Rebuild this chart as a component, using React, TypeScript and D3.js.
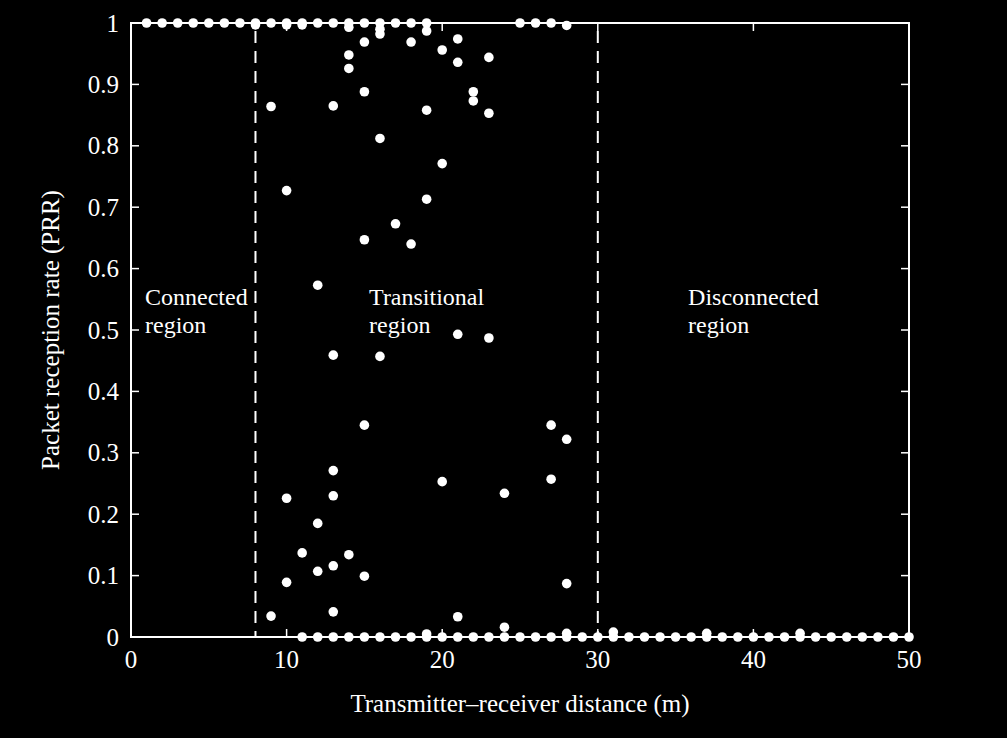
import React from 'react'
import * as d3 from 'd3'

// PRR = 1 (fully connected links)
const fullDist = [1, 2, 3, 4, 5, 6, 7, 8, 9, 10, 11, 12, 13, 14, 15, 16, 17, 18, 19, 25, 26, 27]
// PRR = 0 (no packets received)
const zeroDist = [11, 12, 13, 14, 15, 16, 17, 18, 19, 20, 21, 22, 23, 24, 25, 26, 27, 28, 29, 30,
  31, 32, 33, 34, 35, 36, 37, 38, 39, 40, 41, 42, 43, 44, 45, 46, 47, 48, 49, 50]
// everything else
const otherDist = [28, 8, 10, 11, 14, 16, 16, 19, 15, 18, 14, 14, 15, 9, 13, 16, 21, 20, 21, 23,
  22, 22, 19, 23, 20, 10, 19, 17, 15, 18, 12, 21, 23, 13, 16, 15, 27, 28, 13, 20,
  27, 10, 13, 24, 12, 11, 14, 12, 13, 15, 10, 28, 9, 13, 21, 24, 19, 28, 31, 37, 43]
const otherPrr = [0.996, 0.997, 0.997, 0.997, 0.993, 0.99, 0.982, 0.987, 0.969, 0.969, 0.948, 0.926, 0.888, 0.864, 0.865, 0.812, 0.974, 0.956, 0.936, 0.944,
  0.888, 0.873, 0.858, 0.853, 0.771, 0.727, 0.713, 0.673, 0.647, 0.64, 0.573, 0.493, 0.487, 0.459, 0.457, 0.345, 0.345, 0.322, 0.271, 0.253,
  0.257, 0.226, 0.23, 0.234, 0.185, 0.137, 0.134, 0.107, 0.116, 0.099, 0.089, 0.087, 0.034, 0.041, 0.033, 0.016, 0.005, 0.006, 0.008, 0.006, 0.006]

const xTicks = [0, 10, 20, 30, 40, 50]
const yTicks = [0, 0.1, 0.2, 0.3, 0.4, 0.5, 0.6, 0.7, 0.8, 0.9, 1]
const boundaries = [8, 30]
const regionLabels = [
  { x: 0.9, lines: ['Connected', 'region'] },
  { x: 15.3, lines: ['Transitional', 'region'] },
  { x: 35.8, lines: ['Disconnected', 'region'] },
]

const W = 1007
const H = 738
const margin = { top: 23, right: 98, bottom: 101, left: 131 }
const font = '"Liberation Serif", "Times New Roman", serif'

export default function App() {
  const innerW = W - margin.left - margin.right
  const innerH = H - margin.top - margin.bottom
  const x = d3.scaleLinear().domain([0, 50]).range([0, innerW])
  const y = d3.scaleLinear().domain([0, 1]).range([innerH, 0])

  const points = [
    ...fullDist.map(d => [d, 1]),
    ...zeroDist.map(d => [d, 0]),
    ...otherDist.map((d, i) => [d, otherPrr[i]]),
  ]
  const tick = 8

  return (
    <div style={{ position: 'absolute', left: 0, top: 0, background: '#000' }}>
      <svg width={W} height={H} style={{ display: 'block', background: '#000' }}>
        <g transform={`translate(${margin.left},${margin.top})`} fill="#fff" stroke="#fff">
          {boundaries.map(b => (
            <line key={b} x1={x(b)} x2={x(b)} y1={0} y2={innerH}
              strokeWidth={2} strokeDasharray="12,8" strokeDashoffset={-8} />
          ))}
          <rect x={0} y={0} width={innerW} height={innerH} fill="none" strokeWidth={2} />
          {xTicks.map(t => (
            <g key={'x' + t}>
              <line x1={x(t)} x2={x(t)} y1={innerH} y2={innerH - tick} strokeWidth={1.5} />
              <line x1={x(t)} x2={x(t)} y1={0} y2={tick} strokeWidth={1.5} />
              <text x={x(t)} y={innerH + 31} textAnchor="middle" stroke="none"
                fontFamily={font} fontSize={25}>{t}</text>
            </g>
          ))}
          {yTicks.map(t => (
            <g key={'y' + t}>
              <line x1={0} x2={tick} y1={y(t)} y2={y(t)} strokeWidth={1.5} />
              <line x1={innerW} x2={innerW - tick} y1={y(t)} y2={y(t)} strokeWidth={1.5} />
              <text x={-12} y={y(t) + 8.5} textAnchor="end" stroke="none"
                fontFamily={font} fontSize={25}>{d3.format('~g')(t)}</text>
            </g>
          ))}
          {points.map(([d, p], i) => (
            <circle key={i} cx={x(d)} cy={y(p)} r={4.8} stroke="none" />
          ))}
          {regionLabels.map(r => (
            <text key={r.lines[0]} x={x(r.x)} y={y(0.55) + 6} stroke="none"
              fontFamily={font} fontSize={24}>
              {r.lines.map((l, i) => (
                <tspan key={l} x={x(r.x)} dy={i === 0 ? 0 : 28}>{l}</tspan>
              ))}
            </text>
          ))}
          <text x={innerW / 2} y={innerH + 75} textAnchor="middle" stroke="none"
            fontFamily={font} fontSize={25}>Transmitter–receiver distance (m)</text>
          <text transform={`translate(${-72},${innerH / 2}) rotate(-90)`} textAnchor="middle"
            stroke="none" fontFamily={font} fontSize={25}>Packet reception rate (PRR)</text>
        </g>
      </svg>
    </div>
  )
}
